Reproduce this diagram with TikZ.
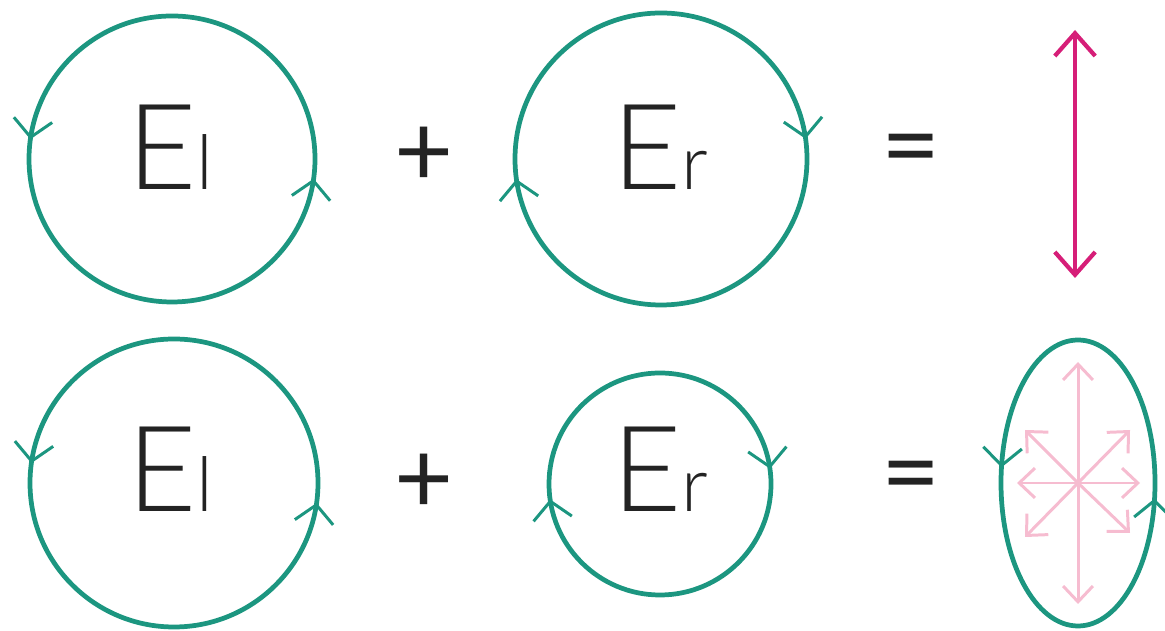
\documentclass[tikz,border=0pt]{standalone}
\usepackage{fontspec}
\setmainfont{Lato}[UprightFont=* Light]
\newfontfamily\opfont{Lato}
\usetikzlibrary{arrows.meta, decorations.markings}
\definecolor{loopteal}{RGB}{28,150,128}
\definecolor{fieldpink}{RGB}{214,30,120}
\definecolor{fieldlight}{RGB}{246,188,208}
\definecolor{inkgray}{RGB}{35,35,35}

\begin{document}
\begin{tikzpicture}[x=0.02cm, y=0.02cm,
    turn/.style={draw=loopteal, line width=2.7pt, postaction={decorate},
      decoration={markings,
        mark=at position 0.478 with {\arrow{Straight Barb[length=10pt, width=22pt, line width=1.7pt, color=loopteal]}},
        mark=at position 0.978 with {\arrow{Straight Barb[length=10pt, width=22pt, line width=1.7pt, color=loopteal]}}}},
    lbl/.style={anchor=base west, inner sep=0pt, text=inkgray, font=\fontsize{68}{70}\selectfont},
    op/.style={inner sep=0pt, text=inkgray, font=\opfont\fontsize{58}{60}\selectfont},
    spoke/.style={fieldlight, line width=1.7pt, -{Straight Barb[length=9pt, width=17pt]}}
]
  \useasboundingbox (0,0) rectangle (1165,631);

  % Row 1
  \draw[turn] (172,472) circle[radius=143];
  \draw[turn] (807,472) arc[start angle=0, end angle=-360, radius=146];
  \node[lbl] (el1) at (127,441) {E{\fontsize{43}{45}\selectfont l}};
  \node[lbl] (er1) at (612,441) {E{\fontsize{43}{45}\selectfont r}};
  \node[op] (plus1) at (424,474) {+};
  \node[op] (eq1) at (911,474) {=};
  \coordinate (ptop) at (1075,601);
  \coordinate (pbot) at (1075,353);
  \draw[fieldpink, line width=2.4pt, {Straight Barb[length=13pt, width=23pt]}-{Straight Barb[length=13pt, width=23pt]}] (ptop) -- (pbot);

  % Row 2
  \draw[turn] (174,148) circle[radius=144];
  \draw[turn] (771,147) arc[start angle=0, end angle=-360, radius=111];
  \node[lbl] (el2) at (127,119) {E{\fontsize{43}{45}\selectfont l}};
  \node[lbl] (er2) at (612,119) {E{\fontsize{43}{45}\selectfont r}};
  \node[op] (plus2) at (424,147) {+};
  \node[op] (eq2) at (911,147) {=};

  % Resulting field
  \coordinate (mid) at (1078,148);
  \draw[spoke] (mid) -- ++(0,121);
  \draw[spoke] (mid) -- ++(0,-121);
  \draw[spoke] (mid) -- ++(-61,0);
  \draw[spoke] (mid) -- ++(62,0);
  \draw[spoke] (mid) -- ++(-53,53);
  \draw[spoke] (mid) -- ++(52,53);
  \draw[spoke] (mid) -- ++(-53,-54);
  \draw[spoke] (mid) -- ++(52,-50);
  \draw[turn] (1078,148) ellipse[x radius=77, y radius=143];
\end{tikzpicture}
\end{document}
